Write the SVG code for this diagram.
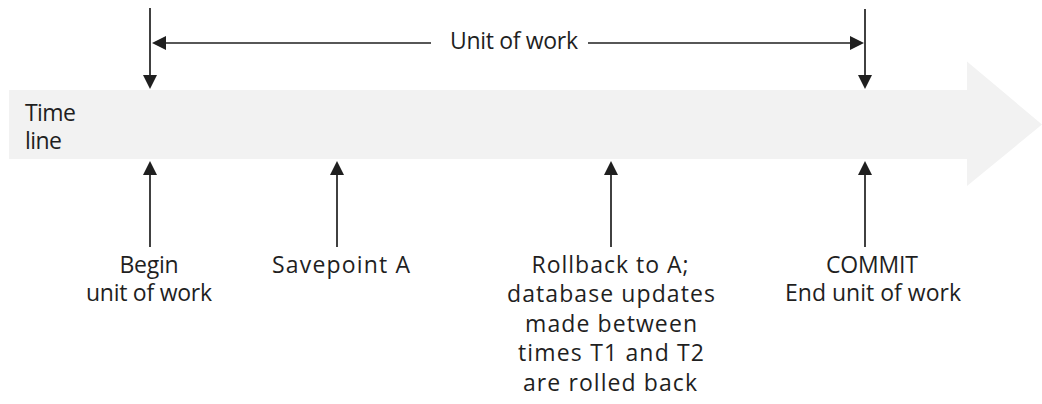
<svg xmlns="http://www.w3.org/2000/svg" width="1042" height="404" viewBox="0 0 1042 404">
  <style>
    .lbl { font-family: "Open Sans", "Noto Sans", "Liberation Sans", sans-serif; font-size: 23px; fill: #1f1f1f; }
    .mid { text-anchor: middle; }
    .conn { stroke: #1f1f1f; stroke-width: 1.7; fill: none; }
  </style>
  <defs>
    <marker id="ah" markerUnits="userSpaceOnUse" markerWidth="14" markerHeight="14" viewBox="0 0 14 14" refX="11" refY="7" orient="auto">
      <path d="M0,0 L14,7 L0,14 z" fill="#1f1f1f"/>
    </marker>
  </defs>
  <rect width="1042" height="404" fill="#ffffff"/>

  <g id="timeline">
    <polygon points="9,90 967,90 967,61.5 1042,124.5 967,186 967,159 9,159" fill="#f2f2f2"/>
    <text class="lbl" x="25" y="120.5" textLength="51" lengthAdjust="spacing">Time</text>
    <text class="lbl" x="25" y="148.5" textLength="37" lengthAdjust="spacing">line</text>
  </g>

  <g id="unit-of-work">
    <text class="lbl mid" x="514" y="48.5" textLength="128" lengthAdjust="spacing">Unit of work</text>
  </g>

  <g id="begin">
    <text class="lbl mid" x="149" y="273" textLength="59" lengthAdjust="spacing">Begin</text>
    <text class="lbl mid" x="149" y="300.5" textLength="126" lengthAdjust="spacing">unit of work</text>
  </g>

  <g id="savepoint">
    <text class="lbl mid" x="341" y="273" textLength="138" lengthAdjust="spacing">Savepoint A</text>
  </g>

  <g id="rollback">
    <text class="lbl mid" x="610" y="272.5" textLength="157" lengthAdjust="spacing">Rollback to A;</text>
    <text class="lbl mid" x="611" y="302" textLength="208" lengthAdjust="spacing">database updates</text>
    <text class="lbl mid" x="611" y="331.5" textLength="172" lengthAdjust="spacing">made between</text>
    <text class="lbl mid" x="611" y="361" textLength="186" lengthAdjust="spacing">times T1 and T2</text>
    <text class="lbl mid" x="610" y="390.5" textLength="174" lengthAdjust="spacing">are rolled back</text>
  </g>

  <g id="commit">
    <text class="lbl mid" x="872" y="273" textLength="92" lengthAdjust="spacing">COMMIT</text>
    <text class="lbl mid" x="873" y="300.5" textLength="176" lengthAdjust="spacing">End unit of work</text>
  </g>

  <g id="connectors">
    <line class="conn" x1="150" y1="8" x2="150" y2="86" marker-end="url(#ah)"/>
    <line class="conn" x1="865" y1="9" x2="865" y2="86" marker-end="url(#ah)"/>
    <line class="conn" x1="431" y1="43" x2="155" y2="43" marker-end="url(#ah)"/>
    <line class="conn" x1="588" y1="43" x2="861" y2="43" marker-end="url(#ah)"/>
    <line class="conn" x1="150" y1="247" x2="150" y2="164" marker-end="url(#ah)"/>
    <line class="conn" x1="337" y1="247" x2="337" y2="164" marker-end="url(#ah)"/>
    <line class="conn" x1="611" y1="247" x2="611" y2="164" marker-end="url(#ah)"/>
    <line class="conn" x1="865" y1="247" x2="865" y2="164" marker-end="url(#ah)"/>
  </g>
</svg>
